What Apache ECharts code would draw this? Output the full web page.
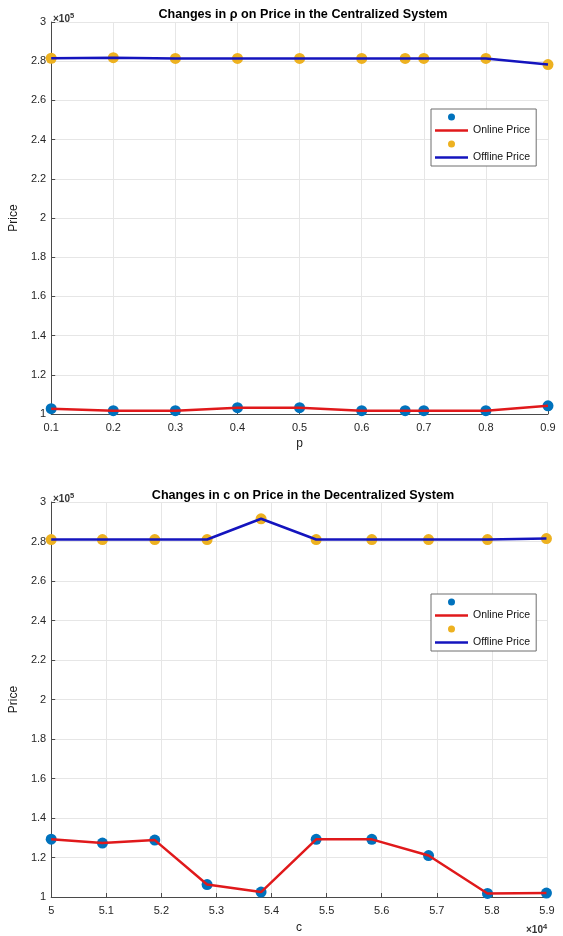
<!DOCTYPE html>
<html>
<head>
<meta charset="utf-8">
<script src="https://cdn.jsdelivr.net/npm/echarts@6/dist/echarts.min.js"></script>
<style>
  html, body { margin: 0; padding: 0; background: #fff; }
  #chart { width: 563px; height: 936px; }
</style>
</head>
<body>
<div id="chart"></div>
<script>
// Centralized system: price vs rho
const rhoValues = [0.1, 0.2, 0.3, 0.4, 0.5, 0.6, 0.67, 0.7, 0.8, 0.9];
const rhoOnline = [102700, 101700, 101700, 103200, 103200, 101700, 101700, 101700, 101700, 104200];
const rhoOffline = [281500, 281800, 281400, 281400, 281400, 281400, 281400, 281400, 281400, 278300];

// Decentralized system: price vs c
const cValues = [50000, 50930, 51880, 52830, 53810, 54810, 55820, 56850, 57920, 58990];
const cOnline = [129300, 127300, 128800, 106300, 102500, 129200, 129200, 121000, 101800, 102000];
const cOffline = [281000, 281000, 281000, 281000, 291500, 281000, 281000, 281000, 281000, 281500];

// Axis tick settings
const rhoTicks = { min: 0.1, max: 0.9, step: 0.1 };
const cTicks = { min: 50000, max: 59000, step: 1000 };
const priceTicks = { min: 100000, max: 300000, step: 20000 };

const FONT = 'Liberation Sans, Arial, Helvetica, sans-serif';
const BLUE_DOT = '#0072BD';
const YELLOW_DOT = '#EDB120';
const RED_LINE = '#E0191B';
const BLUE_LINE = '#1414BE';
const AXIS_COLOR = '#4a4a4a';
const GRID_COLOR = '#e6e6e6';
// legend icons: a dot or a bar centred in a 33x10 box
const DOT_ICON = 'path://M0,0M33,10M20,5A3.5,3.5,0,1,1,13,5A3.5,3.5,0,1,1,20,5Z';
const BAR_ICON = 'path://M0,0M33,10M0,3.8H33V6.2H0Z';

const pairs = (xs, ys) => xs.map((x, i) => [x, ys[i]]);

function valueAxis(gridIndex, ticks, fmt, extra) {
  return Object.assign({
    type: 'value',
    gridIndex: gridIndex,
    min: ticks.min,
    max: ticks.max,
    interval: ticks.step,
    axisLine: { show: true, lineStyle: { color: AXIS_COLOR, width: 1 } },
    axisTick: { show: true, inside: true, length: 4, lineStyle: { color: AXIS_COLOR } },
    splitLine: { show: true, lineStyle: { color: GRID_COLOR, width: 1 } },
    axisLabel: { color: '#262626', fontSize: 11, fontFamily: FONT, formatter: fmt },
    nameTextStyle: { color: '#1a1a1a', fontSize: 12, fontFamily: FONT }
  }, extra || {});
}

const priceFmt = v => String(+(v / 1e5).toFixed(2));

function legendFor(top) {
  return {
    orient: 'vertical',
    left: 431,
    top: top,
    itemWidth: 33,
    itemHeight: 10,
    itemGap: 3,
    padding: [3, 6, 3, 4],
    borderColor: '#6e6e6e',
    borderWidth: 1,
    backgroundColor: '#fff',
    textStyle: { color: '#111', fontSize: 10.5, fontFamily: FONT },
    formatter: n => (n.indexOf('Markers') >= 0 ? '' : n),
    data: [
      { name: 'Online Markers', icon: DOT_ICON },
      { name: 'Online Price', icon: BAR_ICON },
      { name: 'Offline Markers', icon: DOT_ICON },
      { name: 'Offline Price', icon: BAR_ICON }
    ],
    selectedMode: false
  };
}

function seriesFor(idx, xs, online, offline) {
  const common = { xAxisIndex: idx, yAxisIndex: idx, clip: false, silent: true, animation: false };
  return [
    Object.assign({ type: 'scatter', name: 'Online Markers', data: pairs(xs, online), symbolSize: 11,
      itemStyle: { color: BLUE_DOT, opacity: 1 }, z: 1 }, common),
    Object.assign({ type: 'line', name: 'Online Price', data: pairs(xs, online), symbol: 'none',
      lineStyle: { color: RED_LINE, width: 2.5 }, itemStyle: { color: RED_LINE }, z: 5 }, common),
    Object.assign({ type: 'scatter', name: 'Offline Markers', data: pairs(xs, offline), symbolSize: 11,
      itemStyle: { color: YELLOW_DOT, opacity: 1 }, z: 1 }, common),
    Object.assign({ type: 'line', name: 'Offline Price', data: pairs(xs, offline), symbol: 'none',
      lineStyle: { color: BLUE_LINE, width: 2.5 }, itemStyle: { color: BLUE_LINE }, z: 5 }, common)
  ];
}

const expRich = {
  a: { fontSize: 10, color: '#333', fontFamily: FONT },
  b: { fontSize: 7.5, color: '#333', fontFamily: FONT, padding: [0, 0, 7, 0] }
};

const chart = echarts.init(document.getElementById('chart'), null, { renderer: 'canvas' });
chart.setOption({
  backgroundColor: '#fff',
  animation: false,
  title: [
    { text: 'Changes in \u03c1 on Price in the Centralized System', left: 298, top: 3, textAlign: 'center',
      textStyle: { fontSize: 12.6, fontWeight: 'bold', color: '#000', fontFamily: FONT } },
    { text: 'Changes in c on Price in the Decentralized System', left: 298, top: 484, textAlign: 'center',
      textStyle: { fontSize: 12.6, fontWeight: 'bold', color: '#000', fontFamily: FONT } },
    { text: '{a|\u00d710}{b|5}', left: 48, top: 7, textStyle: { rich: expRich } },
    { text: '{a|\u00d710}{b|5}', left: 48, top: 487, textStyle: { rich: expRich } },
    { text: '{a|\u00d710}{b|4}', left: 521, top: 918, textStyle: { rich: expRich } }
  ],
  legend: [legendFor(109), legendFor(594)],
  grid: [
    { left: 48, top: 22, width: 500, height: 392, containLabel: false },
    { left: 48, top: 502, width: 499, height: 395, containLabel: false }
  ],
  xAxis: [
    valueAxis(0, rhoTicks, v => String(+v.toFixed(2)),
      { name: 'p', nameLocation: 'middle', nameGap: 24 }),
    valueAxis(1, cTicks, v => String(+(v / 1e4).toFixed(2)),
      { name: 'c', nameLocation: 'middle', nameGap: 25 })
  ],
  yAxis: [
    valueAxis(0, priceTicks, priceFmt, { name: 'Price', nameLocation: 'middle', nameGap: 30, axisLabel: { color: '#262626', fontSize: 11, fontFamily: FONT, formatter: priceFmt, margin: 5 } }),
    valueAxis(1, priceTicks, priceFmt, { name: 'Price', nameLocation: 'middle', nameGap: 30, axisLabel: { color: '#262626', fontSize: 11, fontFamily: FONT, formatter: priceFmt, margin: 5 } })
  ],
  series: [].concat(
    seriesFor(0, rhoValues, rhoOnline, rhoOffline),
    seriesFor(1, cValues, cOnline, cOffline)
  )
});
</script>
</body>
</html>
